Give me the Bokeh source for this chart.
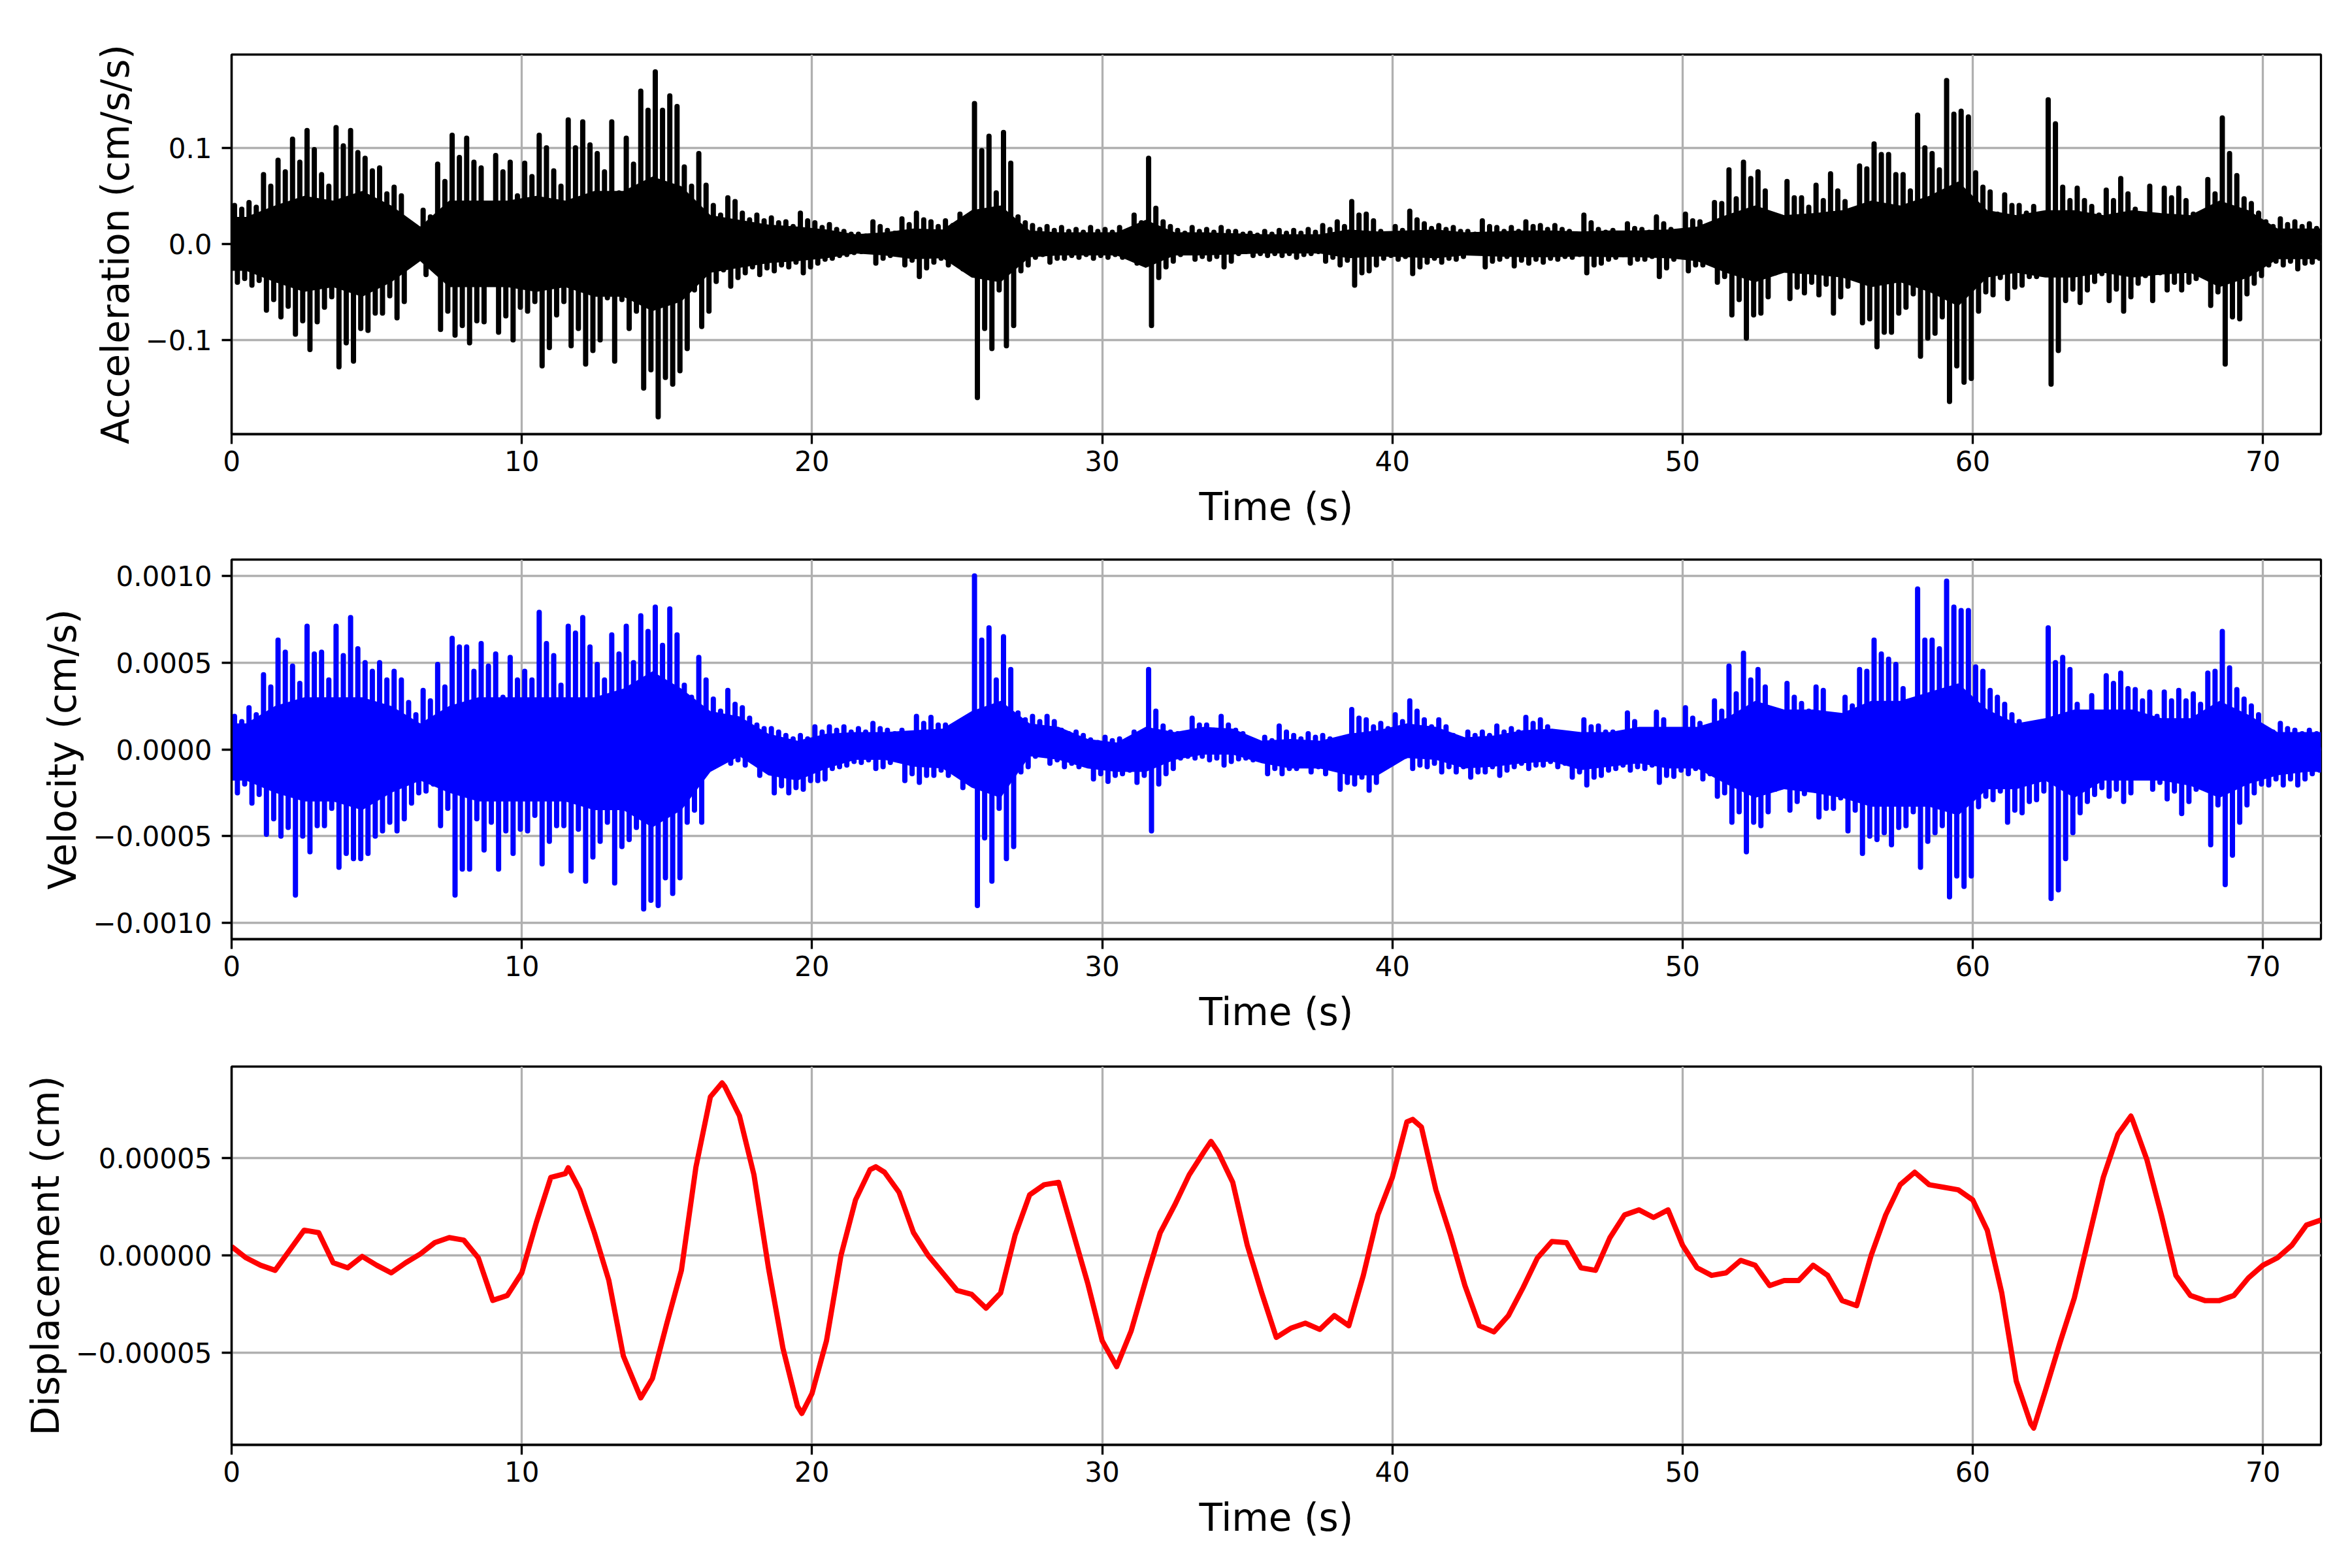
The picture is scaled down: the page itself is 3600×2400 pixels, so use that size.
import numpy as np
from bokeh.plotting import figure
from bokeh.layouts import column
from bokeh.models import Range1d, FixedTicker
from bokeh.embed import file_html
from bokeh.resources import INLINE

# ---------------- data ----------------
T_MAX = 72
BIN = 0.5            # width of the time bins used for the envelope readings (s)

x_ticks = [0, 10, 20, 30, 40, 50, 60, 70]

acc_ticks = [-0.1, 0.0, 0.1]
acc_tick_labels = ["\u22120.1", "0.0", "0.1"]
vel_ticks = [-0.001, -0.0005, 0.0, 0.0005, 0.001]
vel_tick_labels = ["\u22120.0010", "\u22120.0005", "0.0000", "0.0005", "0.0010"]
disp_ticks = [-0.00005, 0.0, 0.00005]
disp_tick_labels = ["\u22120.00005", "0.00000", "0.00005"]

# Acceleration (cm/s/s): highest / second highest and lowest / second lowest peak per 0.5 s bin
acc_hi = [
    0.040, 0.043, 0.072, 0.087, 0.109, 0.118, 0.072, 0.121, 0.118, 0.089,
    0.079, 0.059, 0.020, 0.035, 0.083, 0.113, 0.110, 0.079, 0.092, 0.085,
    0.084, 0.113, 0.076, 0.129, 0.127, 0.094, 0.127, 0.110, 0.159, 0.179,
    0.154, 0.080, 0.094, 0.040, 0.048, 0.032, 0.030, 0.027, 0.023, 0.032,
    0.022, 0.020, 0.013, 0.010, 0.023, 0.014, 0.026, 0.032, 0.023, 0.024,
    0.031, 0.146, 0.112, 0.116, 0.028, 0.019, 0.018, 0.017, 0.015, 0.017,
    0.015, 0.017, 0.030, 0.089, 0.023, 0.014, 0.017, 0.015, 0.017, 0.013,
    0.011, 0.013, 0.014, 0.014, 0.015, 0.019, 0.023, 0.044, 0.031, 0.013,
    0.018, 0.034, 0.021, 0.019, 0.017, 0.013, 0.024, 0.017, 0.017, 0.023,
    0.019, 0.019, 0.013, 0.030, 0.015, 0.014, 0.021, 0.015, 0.028, 0.015,
    0.031, 0.023, 0.043, 0.077, 0.085, 0.075, 0.028, 0.065, 0.048, 0.061,
    0.073, 0.044, 0.081, 0.104, 0.093, 0.072, 0.134, 0.094, 0.170, 0.138,
    0.074, 0.054, 0.051, 0.040, 0.039, 0.150, 0.059, 0.058, 0.039, 0.056,
    0.068, 0.036, 0.060, 0.058, 0.058, 0.031, 0.067, 0.131, 0.071, 0.042,
    0.023, 0.026, 0.023, 0.021,
]
acc_hi2 = [
    0.036, 0.038, 0.060, 0.075, 0.085, 0.098, 0.060, 0.102, 0.095, 0.076,
    0.052, 0.050, 0.015, 0.028, 0.065, 0.090, 0.085, 0.030, 0.075, 0.050,
    0.070, 0.100, 0.060, 0.100, 0.103, 0.075, 0.053, 0.083, 0.139, 0.139,
    0.143, 0.060, 0.061, 0.030, 0.044, 0.025, 0.024, 0.022, 0.018, 0.024,
    0.017, 0.015, 0.010, 0.008, 0.018, 0.011, 0.020, 0.025, 0.018, 0.019,
    0.024, 0.097, 0.053, 0.084, 0.022, 0.015, 0.014, 0.013, 0.012, 0.013,
    0.012, 0.013, 0.022, 0.037, 0.018, 0.011, 0.013, 0.012, 0.013, 0.010,
    0.009, 0.010, 0.011, 0.011, 0.012, 0.015, 0.018, 0.030, 0.024, 0.010,
    0.014, 0.025, 0.016, 0.015, 0.013, 0.010, 0.018, 0.013, 0.013, 0.018,
    0.015, 0.015, 0.010, 0.022, 0.012, 0.011, 0.016, 0.012, 0.021, 0.012,
    0.024, 0.018, 0.042, 0.047, 0.068, 0.055, 0.022, 0.048, 0.038, 0.045,
    0.055, 0.035, 0.078, 0.093, 0.072, 0.055, 0.100, 0.077, 0.135, 0.132,
    0.059, 0.031, 0.040, 0.032, 0.030, 0.125, 0.045, 0.045, 0.030, 0.045,
    0.052, 0.028, 0.021, 0.048, 0.045, 0.025, 0.052, 0.094, 0.047, 0.032,
    0.018, 0.020, 0.018, 0.016,
]
acc_lo = [
    -0.040, -0.043, -0.069, -0.076, -0.094, -0.110, -0.066, -0.128, -0.122, -0.090,
    -0.072, -0.077, -0.014, -0.032, -0.089, -0.095, -0.103, -0.081, -0.092, -0.100,
    -0.070, -0.127, -0.074, -0.106, -0.125, -0.100, -0.122, -0.088, -0.150, -0.180,
    -0.146, -0.109, -0.086, -0.039, -0.044, -0.030, -0.032, -0.028, -0.024, -0.030,
    -0.020, -0.015, -0.011, -0.008, -0.020, -0.012, -0.022, -0.034, -0.019, -0.022,
    -0.026, -0.160, -0.109, -0.106, -0.028, -0.014, -0.019, -0.015, -0.014, -0.015,
    -0.014, -0.014, -0.020, -0.085, -0.024, -0.011, -0.016, -0.016, -0.024, -0.010,
    -0.012, -0.012, -0.012, -0.014, -0.010, -0.018, -0.022, -0.043, -0.028, -0.015,
    -0.016, -0.031, -0.019, -0.019, -0.016, -0.008, -0.024, -0.016, -0.023, -0.020,
    -0.019, -0.016, -0.014, -0.030, -0.020, -0.014, -0.020, -0.016, -0.034, -0.016,
    -0.028, -0.022, -0.040, -0.074, -0.098, -0.072, -0.030, -0.057, -0.051, -0.053,
    -0.072, -0.044, -0.082, -0.107, -0.092, -0.066, -0.117, -0.093, -0.164, -0.144,
    -0.070, -0.053, -0.057, -0.043, -0.034, -0.146, -0.059, -0.061, -0.039, -0.059,
    -0.070, -0.041, -0.059, -0.048, -0.048, -0.036, -0.064, -0.125, -0.078, -0.041,
    -0.022, -0.022, -0.026, -0.019,
]
acc_lo2 = [
    -0.036, -0.038, -0.058, -0.065, -0.080, -0.081, -0.055, -0.103, -0.088, -0.072,
    -0.054, -0.060, -0.011, -0.026, -0.070, -0.085, -0.080, -0.035, -0.075, -0.066,
    -0.060, -0.108, -0.060, -0.088, -0.111, -0.056, -0.058, -0.070, -0.131, -0.139,
    -0.132, -0.048, -0.070, -0.027, -0.035, -0.024, -0.025, -0.022, -0.019, -0.024,
    -0.016, -0.012, -0.009, -0.007, -0.015, -0.010, -0.017, -0.025, -0.015, -0.017,
    -0.020, -0.088, -0.048, -0.085, -0.022, -0.011, -0.015, -0.012, -0.011, -0.012,
    -0.011, -0.011, -0.016, -0.035, -0.018, -0.009, -0.013, -0.013, -0.018, -0.008,
    -0.010, -0.010, -0.010, -0.011, -0.008, -0.014, -0.017, -0.030, -0.022, -0.012,
    -0.013, -0.024, -0.015, -0.015, -0.013, -0.007, -0.018, -0.013, -0.017, -0.016,
    -0.015, -0.013, -0.011, -0.022, -0.016, -0.011, -0.016, -0.013, -0.025, -0.013,
    -0.022, -0.018, -0.034, -0.058, -0.074, -0.055, -0.024, -0.045, -0.040, -0.042,
    -0.055, -0.035, -0.078, -0.092, -0.072, -0.052, -0.098, -0.076, -0.127, -0.140,
    -0.050, -0.035, -0.045, -0.034, -0.027, -0.111, -0.047, -0.048, -0.031, -0.047,
    -0.055, -0.033, -0.030, -0.040, -0.040, -0.029, -0.050, -0.076, -0.052, -0.033,
    -0.018, -0.018, -0.020, -0.015,
]
# Acceleration: half-height of the solid black band, per 1 s
acc_core = [
    0.028, 0.040, 0.050, 0.045, 0.055, 0.040, 0.018, 0.045, 0.045, 0.045,
    0.050, 0.045, 0.055, 0.055, 0.070, 0.060, 0.030, 0.025, 0.020, 0.018,
    0.015, 0.010, 0.012, 0.016, 0.015, 0.035, 0.040, 0.014, 0.012, 0.012,
    0.012, 0.025, 0.012, 0.012, 0.011, 0.010, 0.010, 0.010, 0.015, 0.013,
    0.014, 0.015, 0.012, 0.013, 0.014, 0.014, 0.013, 0.014, 0.014, 0.015,
    0.018, 0.030, 0.040, 0.030, 0.032, 0.035, 0.045, 0.040, 0.050, 0.065,
    0.035, 0.030, 0.035, 0.035, 0.030, 0.035, 0.032, 0.030, 0.045, 0.035,
    0.016, 0.016,
]

# Velocity, in units of 1e-4 cm/s: peaks per 0.5 s bin
VEL_UNIT = 1e-4
vel_hi = [
    1.9, 2.4, 4.3, 6.3, 4.8, 7.1, 5.6, 7.1, 7.6, 5.0,
    5.0, 4.5, 2.7, 3.4, 4.9, 6.4, 5.9, 6.1, 5.5, 5.3,
    4.5, 7.9, 5.4, 7.1, 7.6, 4.9, 6.6, 7.1, 7.7, 8.2,
    8.1, 3.7, 5.3, 2.9, 3.4, 2.4, 1.4, 1.2, 0.8, 0.8,
    1.3, 1.3, 1.3, 1.2, 1.5, 1.1, 1.1, 1.9, 1.85, 1.4,
    1.5, 10.0, 7.0, 6.5, 2.1, 1.9, 1.9, 1.1, 1.0, 0.55,
    0.7, 0.6, 1.0, 4.6, 1.35, 0.9, 1.8, 1.4, 1.9, 1.1,
    0.55, 0.7, 1.35, 0.8, 0.9, 0.8, 0.5, 2.3, 1.7, 1.5,
    2.0, 2.8, 1.7, 1.7, 0.8, 1.0, 1.0, 1.35, 1.2, 1.85,
    1.7, 1.0, 0.7, 1.7, 1.35, 1.0, 2.1, 0.9, 2.15, 1.1,
    2.4, 1.5, 2.8, 4.8, 5.55, 4.6, 2.2, 3.8, 2.65, 3.6,
    1.9, 3.0, 4.6, 6.3, 5.2, 3.5, 9.25, 6.3, 9.7, 8.0,
    4.75, 3.4, 2.6, 1.6, 0.8, 7.0, 5.3, 2.6, 3.1, 4.25,
    4.4, 3.45, 3.3, 3.3, 3.4, 3.2, 4.4, 6.8, 3.45, 2.5,
    1.2, 1.5, 1.1, 1.1,
]
vel_hi2 = [
    1.6, 2.0, 3.6, 5.6, 3.8, 5.5, 4.0, 5.4, 5.8, 4.5,
    4.0, 4.0, 2.0, 2.8, 3.6, 5.9, 4.5, 4.8, 3.0, 4.0,
    4.0, 6.1, 3.7, 6.7, 5.9, 4.0, 5.5, 5.0, 6.8, 6.0,
    6.6, 3.0, 4.0, 2.2, 2.6, 1.8, 1.2, 1.0, 0.6, 0.6,
    1.0, 1.1, 1.0, 1.0, 1.2, 0.9, 0.9, 1.5, 1.4, 1.2,
    1.2, 6.3, 4.0, 4.6, 1.7, 1.6, 1.6, 0.9, 0.8, 0.4,
    0.5, 0.5, 0.8, 2.2, 1.0, 0.7, 1.4, 1.1, 1.4, 0.9,
    0.4, 0.5, 1.0, 0.6, 0.7, 0.6, 0.4, 1.8, 1.3, 1.2,
    1.6, 2.2, 1.3, 1.3, 0.6, 0.8, 0.8, 1.0, 1.0, 1.5,
    1.3, 0.8, 0.5, 1.3, 1.0, 0.8, 1.6, 0.7, 1.7, 0.9,
    1.8, 1.2, 2.2, 3.2, 4.0, 3.6, 1.8, 3.0, 2.2, 3.4,
    1.5, 2.5, 4.5, 5.5, 4.9, 2.8, 6.3, 5.8, 8.2, 8.0,
    4.5, 3.0, 2.0, 1.3, 0.7, 5.0, 4.6, 2.0, 1.85, 3.8,
    3.5, 2.8, 1.9, 2.8, 2.8, 2.6, 4.5, 4.7, 2.9, 2.0,
    1.0, 1.2, 0.9, 0.9,
]
vel_lo = [
    -2.5, -3.1, -4.9, -5.0, -8.4, -5.9, -4.4, -6.8, -6.3, -6.0,
    -4.7, -4.7, -3.1, -2.4, -4.4, -8.4, -6.9, -5.8, -6.9, -6.0,
    -4.7, -6.6, -4.4, -7.0, -7.6, -5.3, -7.7, -5.2, -9.2, -9.0,
    -8.3, -4.2, -4.2, -0.8, -0.8, -0.9, -1.5, -2.5, -2.5, -2.3,
    -1.8, -1.1, -0.9, -0.75, -1.1, -0.75, -1.8, -1.9, -1.5, -1.5,
    -2.2, -9.0, -7.6, -6.3, -1.3, -0.4, -0.8, -1.0, -1.0, -1.7,
    -1.85, -1.4, -1.9, -4.7, -1.4, -0.5, -0.5, -0.6, -0.9, -0.55,
    -0.6, -1.4, -1.4, -1.1, -1.3, -1.4, -2.3, -2.0, -2.35, -1.0,
    -0.5, -1.1, -1.0, -1.3, -1.3, -1.6, -1.3, -1.5, -1.0, -1.1,
    -0.9, -1.0, -1.6, -2.05, -1.5, -1.1, -1.2, -1.1, -1.9, -1.55,
    -1.4, -1.7, -2.7, -4.2, -5.9, -4.4, -2.3, -3.5, -2.55, -3.9,
    -3.4, -4.7, -6.0, -5.2, -5.5, -4.4, -6.8, -4.8, -8.5, -7.9,
    -3.3, -2.9, -4.2, -3.65, -2.9, -8.6, -6.3, -3.65, -2.6, -2.7,
    -3.0, -1.6, -2.3, -2.85, -3.7, -2.3, -5.5, -7.8, -4.2, -2.5,
    -2.05, -2.05, -2.05, -1.4,
]
vel_lo2 = [
    -2.0, -2.6, -4.0, -4.5, -5.0, -4.4, -3.4, -6.0, -6.3, -5.0,
    -4.2, -4.0, -2.5, -2.0, -3.4, -6.9, -4.0, -4.2, -4.7, -4.6,
    -3.8, -5.3, -4.4, -4.6, -6.2, -4.2, -5.6, -4.5, -8.7, -7.4,
    -7.4, -3.5, -1.1, -0.6, -0.6, -0.7, -1.2, -2.1, -2.2, -1.8,
    -1.7, -1.0, -0.7, -0.6, -1.0, -0.6, -1.4, -1.5, -1.2, -1.2,
    -1.8, -5.1, -3.4, -5.6, -1.0, -0.3, -0.6, -0.8, -0.8, -1.4,
    -1.5, -1.2, -1.5, -2.0, -1.1, -0.4, -0.4, -0.5, -0.7, -0.5,
    -0.5, -1.1, -1.1, -0.9, -1.0, -1.1, -1.9, -1.6, -1.9, -0.8,
    -0.4, -0.9, -0.8, -1.0, -1.0, -1.3, -1.0, -1.2, -0.8, -0.9,
    -0.7, -0.8, -1.3, -1.6, -1.2, -0.9, -1.0, -0.9, -1.5, -1.2,
    -1.1, -1.4, -2.5, -3.6, -4.2, -3.6, -1.9, -3.0, -2.0, -3.4,
    -2.8, -3.5, -5.0, -4.8, -4.5, -3.6, -5.3, -4.4, -7.3, -7.3,
    -2.7, -2.4, -3.5, -3.0, -2.4, -8.1, -4.8, -3.0, -2.2, -2.3,
    -2.5, -1.3, -1.9, -2.4, -3.0, -1.9, -3.2, -6.1, -3.2, -2.0,
    -1.7, -1.7, -1.7, -1.2,
]
# Velocity: upper and lower edge of the solid band, per 1 s (1e-4 cm/s)
vel_core_hi = [
    1.5, 2.5, 3.0, 3.0, 3.0, 2.5, 1.5, 2.5, 3.0, 3.0,
    3.0, 3.0, 3.0, 3.5, 4.5, 3.5, 2.2, 1.9, 0.9, 0.5,
    0.9, 1.0, 1.0, 1.1, 1.2, 2.2, 2.8, 1.5, 1.3, 0.6,
    0.4, 1.3, 1.0, 1.3, 1.2, 0.5, 0.6, 0.5, 0.9, 1.1,
    1.5, 1.3, 0.7, 0.8, 1.1, 1.2, 1.0, 1.0, 1.3, 1.3,
    1.3, 1.8, 2.8, 2.3, 2.3, 2.1, 2.8, 2.8, 3.3, 3.8,
    2.3, 1.5, 1.8, 2.3, 2.3, 2.3, 1.8, 1.8, 2.8, 2.0,
    1.0, 1.0,
]
vel_core_lo = [
    -1.8, -2.5, -3.0, -3.0, -3.5, -2.5, -1.8, -2.5, -3.0, -3.0,
    -3.0, -3.0, -3.5, -3.5, -4.5, -3.5, -1.3, -0.4, -1.5, -1.8,
    -1.1, -0.6, -0.6, -1.0, -1.1, -2.2, -2.8, -0.4, -0.6, -1.1,
    -1.3, -1.3, -0.6, -0.3, -0.3, -0.8, -1.1, -1.1, -1.5, -1.5,
    -0.5, -0.6, -1.1, -1.0, -0.8, -0.7, -1.2, -1.0, -0.8, -1.1,
    -1.1, -2.0, -2.8, -2.3, -2.5, -2.8, -3.3, -3.3, -3.3, -3.8,
    -2.3, -2.3, -1.8, -2.8, -1.8, -1.8, -1.8, -2.1, -2.8, -2.0,
    -1.5, -1.3,
]

# Displacement, in units of 1e-5 cm
DISP_UNIT = 1e-5
disp_t = [
    0, 0.5, 1, 1.5, 2, 2.5, 3, 3.5, 4, 4.5, 5, 5.5, 6, 6.5, 7, 7.5, 8, 8.5,
    9, 9.5, 10, 10.5, 11, 11.5, 11.6, 12, 12.5, 13, 13.5, 14, 14.1, 14.5, 15,
    15.5, 16, 16.5, 16.9, 17, 17.5, 18, 18.5, 19, 19.5, 19.65, 20, 20.5, 21,
    21.5, 22, 22.2, 22.5, 23, 23.5, 24, 24.5, 25, 25.5, 26, 26.5, 27, 27.5,
    28, 28.5, 29, 29.5, 30, 30.5, 31, 31.5, 32, 32.5, 33, 33.5, 33.75, 34,
    34.5, 35, 35.5, 36, 36.5, 37, 37.5, 38, 38.5, 39, 39.5, 40, 40.5, 40.7,
    41, 41.5, 42, 42.5, 43, 43.5, 44, 44.5, 45, 45.5, 46, 46.5, 47, 47.5,
    48, 48.5, 49, 49.5, 50, 50.5, 51, 51.5, 52, 52.5, 53, 53.5, 54, 54.5,
    55, 55.5, 56, 56.5, 57, 57.5, 58, 58.5, 59, 59.5, 60, 60.5, 61, 61.5,
    62, 62.1, 62.5, 63, 63.5, 64, 64.5, 65, 65.45, 65.5, 66, 66.5, 67, 67.5,
    68, 68.5, 69, 69.5, 70, 70.5, 71, 71.5, 72,
]
disp_v = [
    0.46, -0.12, -0.5, -0.76, 0.27, 1.3, 1.17, -0.37, -0.63, -0.05, -0.5, -0.89, -0.37, 0.08, 0.66, 0.92, 0.79, -0.12,
    -2.3, -2.05, -0.89, 1.69, 4.01, 4.2, 4.5, 3.37, 1.17, -1.28, -5.15, -6.95, -7.3, -6.31, -3.47,
    -0.76, 4.53, 8.14, 8.85, 8.66, 7.17, 4.14, -0.63, -4.76, -7.73, -8.1, -7.08, -4.37, 0.01,
    2.85, 4.4, 4.55, 4.27, 3.24, 1.17, 0.01, -0.89, -1.79, -1.99, -2.7, -1.92, 1.05, 3.11,
    3.63, 3.75, 1.17, -1.41, -4.37, -5.7, -3.86, -1.28, 1.17, 2.59, 4.14, 5.3, 5.85, 5.3,
    3.75, 0.53, -1.92, -4.2, -3.73, -3.47, -3.79, -3.08, -3.6, -1.02, 2.08, 4.01, 6.85, 6.98,
    6.59, 3.37, 1.05, -1.54, -3.6, -3.92, -3.08, -1.66, -0.12, 0.72, 0.66, -0.63, -0.76, 0.92,
    2.08, 2.34, 1.95, 2.34, 0.53, -0.63, -1.02, -0.89, -0.25, -0.5, -1.54, -1.28, -1.28, -0.5,
    -1.02, -2.31, -2.57, 0.01, 2.08, 3.63, 4.27, 3.63, 3.5, 3.37, 2.85, 1.3, -1.92, -6.44,
    -8.63, -8.85, -6.95, -4.5, -2.18, 0.92, 4.01, 6.21, 7.15, 6.98, 4.92, 2.08, -1.02, -2.05,
    -2.31, -2.31, -2.05, -1.15, -0.5, -0.12, 0.53, 1.56, 1.82,
]

# ---------------- styling / layout ----------------
FONT = "DejaVu Sans"
LW = 8
PAGE_W = 3584
BORDER_L, BORDER_R = 354, 32


def make_fig(top, frame_h, bottom, y_lo, y_hi, yticks, ylabels, ylabel):
    p = figure(width=PAGE_W, height=top + frame_h + bottom,
               x_range=Range1d(0, T_MAX), y_range=Range1d(y_lo, y_hi),
               output_backend="svg", toolbar_location=None,
               min_border_left=BORDER_L, min_border_right=BORDER_R,
               min_border_top=top, min_border_bottom=bottom)
    p.background_fill_color = "white"
    p.border_fill_color = "white"
    p.outline_line_color = "black"
    p.outline_line_width = 3.3
    p.outline_line_alpha = 1.0

    p.xaxis.ticker = FixedTicker(ticks=x_ticks)
    p.yaxis.ticker = FixedTicker(ticks=yticks)
    p.yaxis.major_label_overrides = {v: s for v, s in zip(yticks, ylabels)}
    p.xgrid.ticker = FixedTicker(ticks=x_ticks)
    p.ygrid.ticker = FixedTicker(ticks=yticks)
    p.xaxis.axis_label = "Time (s)"
    p.yaxis.axis_label = ylabel

    for ax in (p.xaxis[0], p.yaxis[0]):
        ax.axis_line_color = "black"
        ax.axis_line_width = 3.3
        ax.major_tick_line_color = "black"
        ax.major_tick_line_width = 3.3
        ax.major_tick_out = 15
        ax.major_tick_in = 0
        ax.minor_tick_line_color = None
        ax.major_label_text_font = FONT
        ax.major_label_text_font_size = "42px"
        ax.major_label_text_color = "black"
        ax.axis_label_text_font = FONT
        ax.axis_label_text_font_size = "58px"
        ax.axis_label_text_font_style = "normal"
        ax.axis_label_text_color = "black"
    p.xaxis.major_label_standoff = 10
    p.xaxis.axis_label_standoff = 18
    p.yaxis.major_label_standoff = 15
    p.yaxis.axis_label_standoff = 9

    p.grid.grid_line_color = "#b0b0b0"
    p.grid.grid_line_width = 3.3
    return p


bins = np.arange(len(acc_hi)) * BIN
t_up1 = bins + 0.10
t_dn1 = bins + 0.20
t_up2 = bins + 0.35
t_dn2 = bins + 0.45
sec = np.arange(len(acc_core)) + 0.5
core_t = np.concatenate([[0.0], sec, [T_MAX]])


def ends(a):
    a = np.asarray(a, dtype=float)
    return np.concatenate([[a[0]], a, [a[-1]]])


def spikes(p, scale, up1, dn1, up2, dn2, color):
    for t, v in ((t_up1, up1), (t_dn1, dn1), (t_up2, up2), (t_dn2, dn2)):
        p.segment(x0=t, y0=0, x1=t, y1=np.asarray(v, dtype=float) * scale,
                  line_color=color, line_width=LW, line_cap="round")


# --- acceleration ---
p1 = make_fig(83, 581, 166, -0.198, 0.197, acc_ticks, acc_tick_labels,
              "Acceleration (cm/s/s)")
core = ends(acc_core)
p1.varea(x=core_t, y1=-core, y2=core, fill_color="black")
spikes(p1, 1.0, acc_hi, acc_lo, acc_hi2, acc_lo2, "black")

# --- velocity ---
p2 = make_fig(26, 581, 167, -0.001094, 0.001094, vel_ticks, vel_tick_labels,
              "Velocity (cm/s)")
p2.varea(x=core_t, y1=ends(vel_core_lo) * VEL_UNIT, y2=ends(vel_core_hi) * VEL_UNIT,
         fill_color="blue")
spikes(p2, VEL_UNIT, vel_hi, vel_lo, vel_hi2, vel_lo2, "blue")

# --- displacement ---
p3 = make_fig(28, 579, 173, -0.0000971, 0.0000969, disp_ticks, disp_tick_labels,
              "Displacement (cm)")
p3.line(x=disp_t, y=np.array(disp_v) * DISP_UNIT, line_color="red",
        line_width=LW, line_join="round")

layout = column(p1, p2, p3, spacing=0)
open("out.html", "w").write(file_html(layout, INLINE))
